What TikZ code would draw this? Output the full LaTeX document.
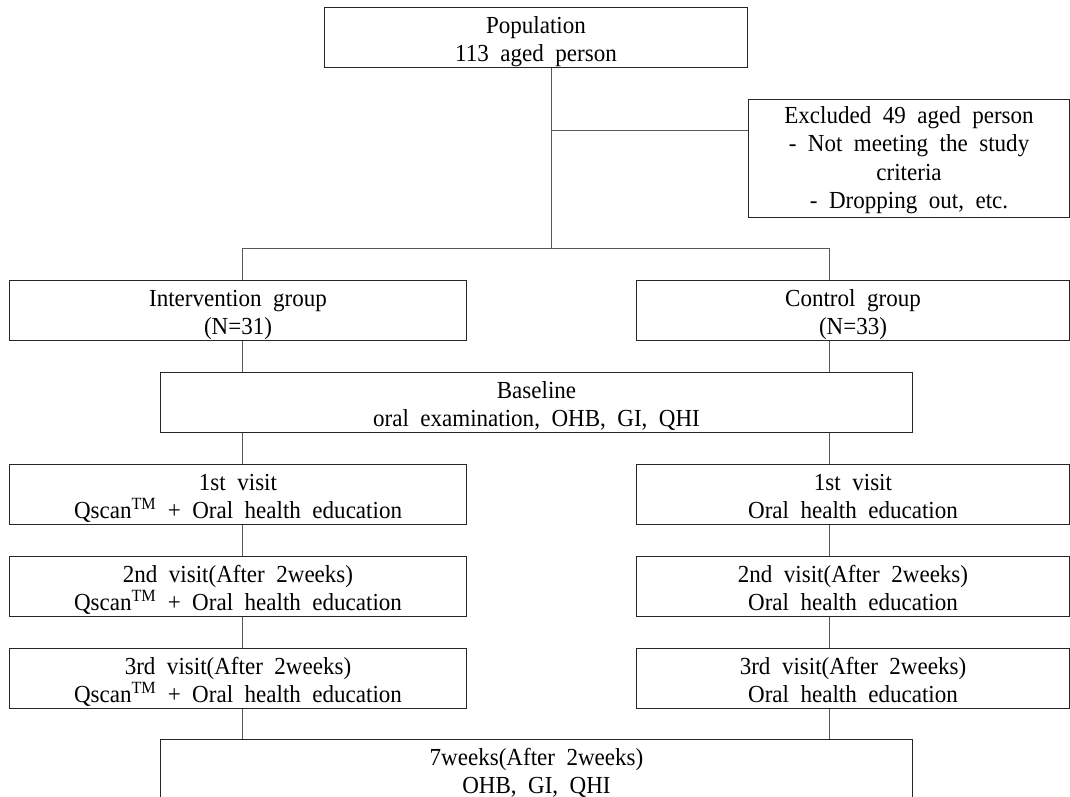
\documentclass[tikz,border=0pt]{standalone}
\usepackage{fontspec}
\setmainfont{Liberation Serif}[FakeStretch=0.94,WordSpace=2.0]
\newcommand\mytop[1]{\rule{0pt}{#1pt}}
\newcommand\mybot{\rule[-6pt]{0pt}{6pt}}
\newcommand\boxfont{\fontsize{24.5}{28}\selectfont}
\newcommand\exfont{\fontsize{24.5}{28.4}\selectfont}
\begin{document}
\begin{tikzpicture}[x=1pt,y=-1pt,
  box/.style={draw=black!85, line width=1pt, inner sep=0pt, align=center,
    anchor=north west, font=\boxfont},
  conn/.style={draw=black!65, line width=1pt}]
\useasboundingbox (0,0) rectangle (1070,797);

\node[box, minimum width=423pt, minimum height=60pt] (pop) at (324,7)
  {\mytop{26}Population\\113 aged person\mybot};
\node[box, minimum width=321pt, minimum height=118pt, font=\exfont] (excl) at (748,99)
  {\mytop{21}Excluded 49 aged person\\- Not meeting the study\\criteria\\- Dropping out, etc.\mybot};

\node[box, minimum width=457pt, minimum height=60pt] (int) at (9,280)
  {\mytop{26}Intervention group\\(N=31)\mybot};
\node[box, minimum width=433pt, minimum height=60pt] (ctl) at (636,280)
  {\mytop{26}Control group\\(N=33)\mybot};

\node[box, minimum width=752pt, minimum height=60pt] (base) at (160,372)
  {\mytop{26}Baseline\\oral examination, OHB, GI, QHI\mybot};

\node[box, minimum width=457pt, minimum height=60pt] (v1L) at (9,464)
  {\mytop{26}1st visit\\Qscan\textsuperscript{TM} + Oral health education\mybot};
\node[box, minimum width=433pt, minimum height=60pt] (v1R) at (636,464)
  {\mytop{26}1st visit\\Oral health education\mybot};

\node[box, minimum width=457pt, minimum height=60pt] (v2L) at (9,556)
  {\mytop{26}2nd visit(After 2weeks)\\Qscan\textsuperscript{TM} + Oral health education\mybot};
\node[box, minimum width=433pt, minimum height=60pt] (v2R) at (636,556)
  {\mytop{26}2nd visit(After 2weeks)\\Oral health education\mybot};

\node[box, minimum width=457pt, minimum height=60pt] (v3L) at (9,648)
  {\mytop{26}3rd visit(After 2weeks)\\Qscan\textsuperscript{TM} + Oral health education\mybot};
\node[box, minimum width=433pt, minimum height=60pt] (v3R) at (636,648)
  {\mytop{26}3rd visit(After 2weeks)\\Oral health education\mybot};

\node[box, minimum width=752pt, minimum height=60pt] (fin) at (160,739)
  {\mytop{26}7weeks(After 2weeks)\\OHB, GI, QHI\mybot};

\coordinate (sp) at (551,248);
\coordinate (ex) at (551,131);
\coordinate (lx) at (242,248);
\coordinate (rx) at (829,248);

\draw[conn] (pop.south -| sp) -- (sp);
\draw[conn] (ex) -- (excl.west |- ex);
\draw[conn] (lx) -- (rx);
\draw[conn] (lx) -- (lx |- int.north);
\draw[conn] (rx) -- (rx |- ctl.north);
\draw[conn] (int.south -| lx) -- (base.north -| lx);
\draw[conn] (ctl.south -| rx) -- (base.north -| rx);
\draw[conn] (base.south -| lx) -- (v1L.north -| lx);
\draw[conn] (base.south -| rx) -- (v1R.north -| rx);
\draw[conn] (v1L.south -| lx) -- (v2L.north -| lx);
\draw[conn] (v1R.south -| rx) -- (v2R.north -| rx);
\draw[conn] (v2L.south -| lx) -- (v3L.north -| lx);
\draw[conn] (v2R.south -| rx) -- (v3R.north -| rx);
\draw[conn] (v3L.south -| lx) -- (fin.north -| lx);
\draw[conn] (v3R.south -| rx) -- (fin.north -| rx);
\end{tikzpicture}
\end{document}
